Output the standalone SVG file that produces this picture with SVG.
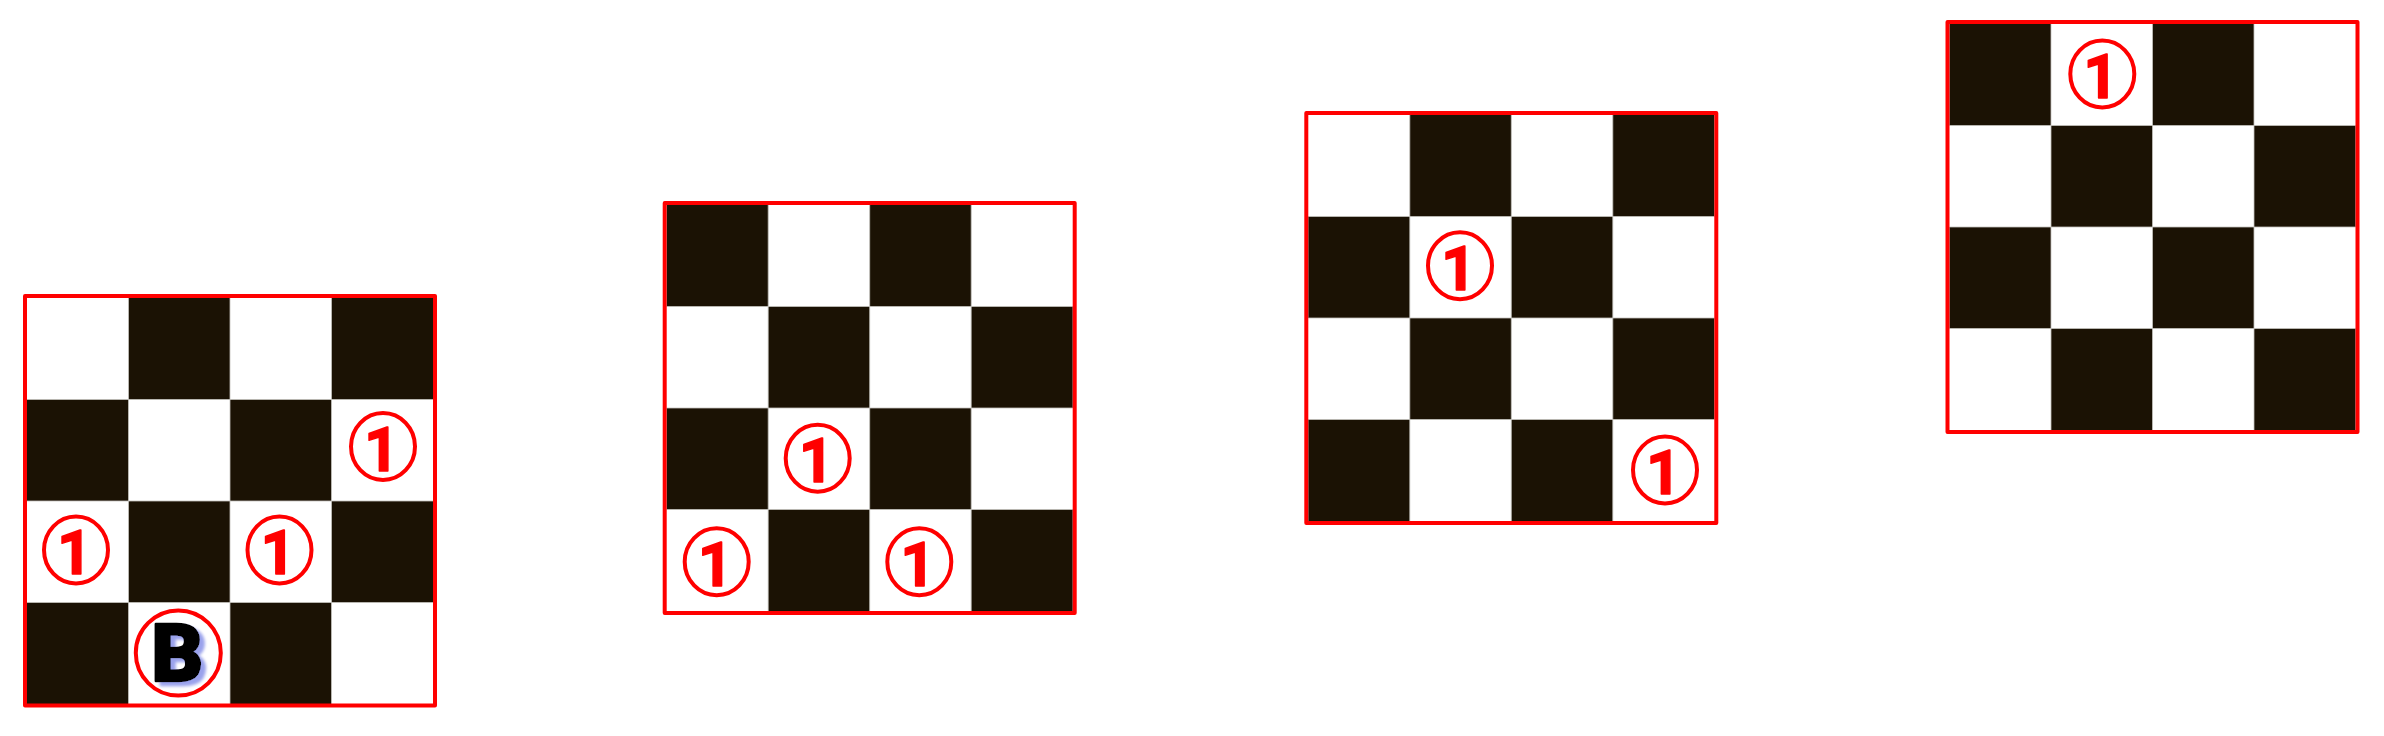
<svg xmlns="http://www.w3.org/2000/svg" xmlns:xlink="http://www.w3.org/1999/xlink" width="2384" height="736" viewBox="0 0 2384 736">
  <style>
    .bg { fill: #ffffff; }
    .dark { fill: #1b1204; }
    .grid { stroke: #c4c2bc; stroke-width: 0.8; fill: none; }
    .frame { fill: none; stroke: #ff0000; stroke-width: 4; stroke-linejoin: round; }
    .ring { fill: none; stroke: #ff0000; stroke-width: 4; }
    .one { font-family: Roboto, "Liberation Sans", Arial, sans-serif; font-weight: 700; font-size: 61px; fill: #ff0000; stroke: #ff0000; stroke-width: 1.4; stroke-linejoin: round; text-anchor: middle; }
    .bee { font-family: Roboto, "Liberation Sans", Arial, sans-serif; font-weight: 900; font-size: 80px; fill: #000000; stroke: #000000; stroke-width: 2.5; stroke-linejoin: round; text-anchor: middle; }
  </style>
  <defs>
    <filter id="shadow" x="-30%" y="-30%" width="170%" height="170%">
      <feOffset in="SourceAlpha" dx="5" dy="4" result="off"/>
      <feGaussianBlur in="off" stdDeviation="1.4" result="blur"/>
      <feFlood flood-color="#9aa2ec"/>
      <feComposite in2="blur" operator="in" result="sh"/>
      <feMerge>
        <feMergeNode in="sh"/>
        <feMergeNode in="SourceGraphic"/>
      </feMerge>
    </filter>
    <g id="darkA">
      <rect class="dark" x="103.5" y="2" width="101.5" height="101.5"/>
      <rect class="dark" x="306.5" y="2" width="101.5" height="101.5"/>
      <rect class="dark" x="2" y="103.5" width="101.5" height="101.5"/>
      <rect class="dark" x="205" y="103.5" width="101.5" height="101.5"/>
      <rect class="dark" x="103.5" y="205" width="101.5" height="101.5"/>
      <rect class="dark" x="306.5" y="205" width="101.5" height="101.5"/>
      <rect class="dark" x="2" y="306.5" width="101.5" height="101.5"/>
      <rect class="dark" x="205" y="306.5" width="101.5" height="101.5"/>
    </g>
    <g id="darkB">
      <rect class="dark" x="2" y="2" width="101.5" height="101.5"/>
      <rect class="dark" x="205" y="2" width="101.5" height="101.5"/>
      <rect class="dark" x="103.5" y="103.5" width="101.5" height="101.5"/>
      <rect class="dark" x="306.5" y="103.5" width="101.5" height="101.5"/>
      <rect class="dark" x="2" y="205" width="101.5" height="101.5"/>
      <rect class="dark" x="205" y="205" width="101.5" height="101.5"/>
      <rect class="dark" x="103.5" y="306.5" width="101.5" height="101.5"/>
      <rect class="dark" x="306.5" y="306.5" width="101.5" height="101.5"/>
    </g>
    <path id="gridlines" class="grid" d="M103.5 2V408M205 2V408M306.5 2V408M2 103.5H408M2 205H408M2 306.5H408"/>
    <ellipse id="ring1" class="ring" cx="0" cy="0" rx="32" ry="33.5"/>
  </defs>

  <rect x="0" y="0" width="2384" height="736" fill="#ffffff"/>

  <g id="board1" transform="translate(25,296)">
    <rect class="bg" x="0" y="0" width="410" height="410"/>
    <use xlink:href="#darkA" href="#darkA"/>
    <use xlink:href="#gridlines" href="#gridlines"/>
    <rect class="frame" x="0" y="0" width="410" height="409.5"/>
    <g id="board1-mark1" transform="translate(358,150.5)">
      <use xlink:href="#ring1" href="#ring1"/>
      <text class="one" x="-1.5" y="24">1</text>
    </g>
    <g id="board1-mark2" transform="translate(51,254)">
      <use xlink:href="#ring1" href="#ring1"/>
      <text class="one" x="-1.5" y="24">1</text>
    </g>
    <g id="board1-mark3" transform="translate(254.5,254)">
      <use xlink:href="#ring1" href="#ring1"/>
      <text class="one" x="-1.5" y="24">1</text>
    </g>
    <g id="board1-B" transform="translate(153.3,357)">
      <circle class="ring" cx="0" cy="0" r="42.5"/>
      <text class="bee" x="-1" y="28" filter="url(#shadow)">B</text>
    </g>
  </g>

  <g id="board2" transform="translate(664.7,203)">
    <rect class="bg" x="0" y="0" width="410" height="410"/>
    <use xlink:href="#darkB" href="#darkB"/>
    <use xlink:href="#gridlines" href="#gridlines"/>
    <rect class="frame" x="0" y="0" width="410" height="410"/>
    <g id="board2-mark1" transform="translate(153,255.3)">
      <use xlink:href="#ring1" href="#ring1"/>
      <text class="one" x="-1.5" y="24">1</text>
    </g>
    <g id="board2-mark2" transform="translate(52,358.7)">
      <use xlink:href="#ring1" href="#ring1"/>
      <text class="one" x="-1.5" y="24">1</text>
    </g>
    <g id="board2-mark3" transform="translate(254.6,358.7)">
      <use xlink:href="#ring1" href="#ring1"/>
      <text class="one" x="-1.5" y="24">1</text>
    </g>
  </g>

  <g id="board3" transform="translate(1306.3,113)">
    <rect class="bg" x="0" y="0" width="410" height="410"/>
    <use xlink:href="#darkA" href="#darkA"/>
    <use xlink:href="#gridlines" href="#gridlines"/>
    <rect class="frame" x="0" y="0" width="410" height="410"/>
    <g id="board3-mark1" transform="translate(153.7,152.7)">
      <use xlink:href="#ring1" href="#ring1"/>
      <text class="one" x="-1.5" y="24">1</text>
    </g>
    <g id="board3-mark2" transform="translate(358.7,357)">
      <use xlink:href="#ring1" href="#ring1"/>
      <text class="one" x="-1.5" y="24">1</text>
    </g>
  </g>

  <g id="board4" transform="translate(1947.5,22)">
    <rect class="bg" x="0" y="0" width="410" height="410"/>
    <use xlink:href="#darkB" href="#darkB"/>
    <use xlink:href="#gridlines" href="#gridlines"/>
    <rect class="frame" x="0" y="0" width="410" height="410"/>
    <g id="board4-mark1" transform="translate(154.8,52)">
      <use xlink:href="#ring1" href="#ring1"/>
      <text class="one" x="-1.5" y="24">1</text>
    </g>
  </g>
</svg>
